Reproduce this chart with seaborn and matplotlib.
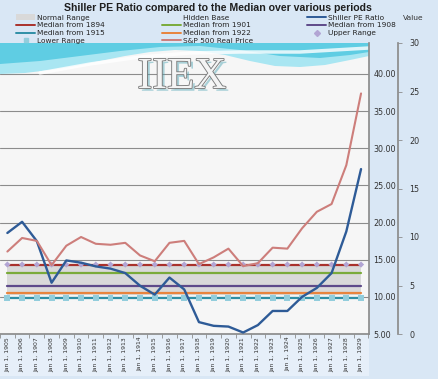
import matplotlib
matplotlib.use("Agg")
import matplotlib.pyplot as plt
import matplotlib.patheffects as pe
from matplotlib.lines import Line2D
from matplotlib.patches import Patch, Rectangle
import numpy as np
import pandas as pd
import seaborn as sns

# data
years = list(range(1905, 1930))
tick_labels = [f"Jan 1, {y}" for y in years]
shiller_pe = [18.6, 20.1, 17.5, 11.9, 14.9, 14.6, 14.1, 13.8, 13.2, 11.5,
              10.3, 12.6, 11.0, 6.6, 6.1, 6.0, 5.2, 6.2, 8.1, 8.1,
              10.0, 11.2, 13.2, 18.8, 27.2]
sp500_real_price = [8.5, 9.9, 9.6, 7.1, 9.1, 10.0, 9.3, 9.2, 9.4, 8.1,
                    7.5, 9.4, 9.6, 7.2, 7.9, 8.8, 7.0, 7.3, 8.9, 8.8,
                    10.9, 12.6, 13.4, 17.4, 24.8]
median_1894 = 14.3
median_1901 = 13.2
median_1908 = 11.5
median_1915 = 9.85
median_1922 = 10.5
upper_range = 14.35
lower_range = 9.85
hidden_base = 10.2
normal_range = 4.0

n = len(years)
df = pd.DataFrame({
    "x": np.arange(n),
    "Shiller PE Ratio": shiller_pe,
    "S&P 500 Real Price": sp500_real_price,
    "Median from 1894": median_1894,
    "Median from 1901": median_1901,
    "Median from 1908": median_1908,
    "Median from 1915": median_1915,
    "Median from 1922": median_1922,
    "Upper Range": upper_range,
    "Lower Range": lower_range,
})

colors = {
    "Shiller PE Ratio": "#2e5b97",
    "S&P 500 Real Price": "#cd7e7b",
    "Median from 1894": "#a9322c",
    "Median from 1901": "#7aab3a",
    "Median from 1908": "#5e4a8a",
    "Median from 1915": "#2f8fa6",
    "Median from 1922": "#e8843e",
    "Upper Range": "#b2a5d4",
    "Lower Range": "#92cddc",
    "Normal Range": "#d9d9d9",
}

sns.set_theme(style="white")
plt.rcParams["font.family"] = ["DejaVu Sans"]

fig = plt.figure(figsize=(4.38, 3.79), dpi=100)
fig.patch.set_facecolor("#d9e7f5")
fig.patches.append(Rectangle((0, 1 - 376 / 379), 369 / 438, 42 / 379,
                             transform=fig.transFigure, facecolor="#e6eff9",
                             edgecolor="none", zorder=-1))

ax = fig.add_axes([0.0, 1 - 334 / 379, 369 / 438, 291 / 379])
ax.set_facecolor("#f6f6f6")

# stacked area: hidden base + normal range
ax.fill_between(df["x"], hidden_base, hidden_base + normal_range,
                color=colors["Normal Range"], lw=0, zorder=1)

for name in ["Median from 1894", "Median from 1901", "Median from 1908",
             "Median from 1922", "Median from 1915"]:
    sns.lineplot(data=df, x="x", y=name, ax=ax, color=colors[name], lw=1.6, zorder=2)
sns.scatterplot(data=df, x="x", y="Upper Range", ax=ax, marker="D", s=10,
                color=colors["Upper Range"], edgecolor="none", zorder=3)
sns.scatterplot(data=df, x="x", y="Lower Range", ax=ax, marker="s", s=18,
                color=colors["Lower Range"], edgecolor="none", zorder=3)
sns.lineplot(data=df, x="x", y="Shiller PE Ratio", ax=ax,
             color=colors["Shiller PE Ratio"], lw=1.7, zorder=4)

# wave decoration at the top of the plot area
def px(points):
    arr = np.array(points, dtype=float)
    return np.column_stack([arr[:, 0] / 369, (334 - arr[:, 1]) / 291])

edge = [(0, 74), (25, 73), (50, 70), (75, 66), (100, 61), (125, 56), (150, 52),
        (175, 50), (200, 51), (225, 55), (250, 61), (275, 66), (300, 67),
        (325, 65), (350, 60), (369, 56)]
outer = px([(369, 43), (0, 43)] + edge)
ax.add_patch(plt.Polygon(outer, closed=True, transform=ax.transAxes,
                         facecolor="#a9e6f2", edgecolor="none", zorder=0.6))
inner_edge = [(0, 64), (40, 61), (80, 56), (120, 51), (160, 47), (200, 46), (240, 50),
              (280, 56), (320, 58), (350, 55), (369, 52)]
inner = px([(369, 43), (0, 43)] + inner_edge)
ax.add_patch(plt.Polygon(inner, closed=True, transform=ax.transAxes,
                         facecolor="#5fcde3", edgecolor="none", zorder=0.7))
swoosh = px([(40, 73), (90, 64), (140, 57), (190, 53), (240, 52), (300, 52), (369, 48)])
ax.plot(swoosh[:, 0], swoosh[:, 1], transform=ax.transAxes, color="white",
        lw=2.5, alpha=0.8, zorder=0.8)

ax.text(182 / 369, (334 - 77) / 291, "IIEX", transform=ax.transAxes,
        ha="center", va="center", fontsize=32, family="Liberation Serif",
        color="#f4f4f4", zorder=5,
        path_effects=[pe.SimplePatchShadow(offset=(2, -2), shadow_rgbFace="#4aa3b3", alpha=0.45),
                      pe.withStroke(linewidth=1.3, foreground="#7c7c7c")])

# secondary axis
ax2 = ax.twinx()
sns.lineplot(data=df, x="x", y="S&P 500 Real Price", ax=ax2,
             color=colors["S&P 500 Real Price"], lw=1.5, zorder=4)
ax2.set_ylim(0, 30)
ax2.set_yticks(np.arange(0, 31, 5))
ax2.set_ylabel("")
ax2.patch.set_visible(False)
for s in ["top", "left", "bottom"]:
    ax2.spines[s].set_visible(False)
ax2.spines["right"].set_position(("axes", 398 / 369))
ax2.spines["right"].set_color("#8c8c8c")
ax2.tick_params(axis="y", length=3, width=0.6, color="#8c8c8c", pad=5,
                labelsize=5.8, labelcolor="#333333")

# primary axis (after twinx, which moves ticks to the left)
ax.set_xlim(-0.475, n - 0.46)
ax.set_ylim(5, 44.17)
ax.set_yticks(np.arange(5, 41, 5))
ax.yaxis.set_major_formatter(matplotlib.ticker.FormatStrFormatter("%.2f"))
ax.yaxis.tick_right()
ax.yaxis.grid(True, color="#8c8c8c", lw=0.8)
ax.tick_params(axis="y", length=0, pad=3, labelsize=5.8, colors="#333333")
ax.set_xticks(df["x"], tick_labels, rotation=90, fontsize=4.4)
ax.set_xticks(np.arange(-0.5, n, 1), minor=True)
ax.tick_params(axis="x", which="major", length=0, pad=2, colors="#333333")
ax.tick_params(axis="x", which="minor", length=3, color="#8c8c8c", width=0.6,
               direction="out", bottom=True)
ax.set(xlabel="", ylabel="")
for s in ["top", "left"]:
    ax.spines[s].set_visible(False)
ax.spines["right"].set_color("#8c8c8c")
ax.spines["bottom"].set_color("#8c8c8c")

fig.text(218 / 438, 1 - 8 / 379, "Shiller PE Ratio compared to the Median over various periods",
         ha="center", va="center", fontsize=7.6, fontweight="bold",
         family="Liberation Sans", color="#1e1e1e")
fig.text(403 / 438, 1 - 18 / 379, "Value", ha="left", va="center",
         fontsize=5.4, color="#333333")

def line_handle(name):
    return Line2D([], [], color=colors[name], lw=1.4)

columns = [
    [(Patch(facecolor=colors["Normal Range"], edgecolor="none"), "Normal Range"),
     (line_handle("Median from 1894"), "Median from 1894"),
     (line_handle("Median from 1915"), "Median from 1915"),
     (Line2D([], [], ls="none", marker="s", ms=3.5, color=colors["Lower Range"]), "Lower Range")],
    [(Line2D([], [], color="none"), "Hidden Base"),
     (line_handle("Median from 1901"), "Median from 1901"),
     (line_handle("Median from 1922"), "Median from 1922"),
     (line_handle("S&P 500 Real Price"), "S&P 500 Real Price")],
    [(line_handle("Shiller PE Ratio"), "Shiller PE Ratio"),
     (line_handle("Median from 1908"), "Median from 1908"),
     (Line2D([], [], ls="none", marker="D", ms=3, color=colors["Upper Range"]), "Upper Range")],
]
for col, x0 in zip(columns, [16, 162, 307]):
    handles, labels = zip(*col)
    fig.legend(handles, labels, loc="upper left", bbox_to_anchor=(x0 / 438, 1 - 14.5 / 379),
               frameon=False, fontsize=5.3, handlelength=2.6, handletextpad=0.3,
               labelspacing=0.22, borderpad=0, borderaxespad=0, labelcolor="#222222")

fig.savefig("out.png", dpi=100, facecolor=fig.get_facecolor())
